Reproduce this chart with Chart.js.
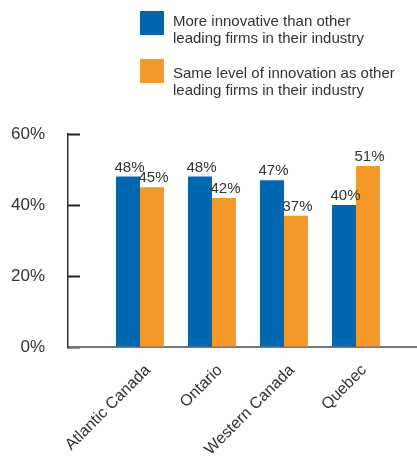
<!DOCTYPE html>
<html>
<head>
<meta charset="utf-8">
<script src="https://cdn.jsdelivr.net/npm/chart.js@4/dist/chart.umd.min.js"></script>
<style>
  html, body { margin: 0; padding: 0; background: #fff; overflow: hidden; }
  #wrap { position: relative; width: 417px; height: 457px; }
  #chart { position: absolute; left: 0; top: 0; }
  .key { position: absolute; left: 140px; width: 24px; height: 24px; }
  .keytext {
    position: absolute; left: 173px; font: 15px/17px 'Liberation Sans', sans-serif;
    color: #333; white-space: nowrap;
  }
</style>
</head>
<body>
<div id="wrap">
  <canvas id="chart" width="417" height="457"></canvas>
  <div id="legend"></div>
</div>
<script>
// Share of firms by region, comparing themselves with other leading firms
const categories = ['Atlantic Canada', 'Ontario', 'Western Canada', 'Quebec'];
const moreInnovative = [48, 48, 47, 40];
const sameLevel = [45, 42, 37, 51];
const seriesNames = [
  ['More innovative than other', 'leading firms in their industry'],
  ['Same level of innovation as other', 'leading firms in their industry']
];
const seriesColors = ['#0067b3', '#f5982a'];
const yTicks = [0, 20, 40, 60];

const FONT = "'Liberation Sans', sans-serif";
const TEXT = '#333';

// Legend built as HTML next to the canvas
const legendTops = [{ box: 11, text: 12 }, { box: 59, text: 64 }];
const legend = document.getElementById('legend');
seriesNames.forEach((lines, i) => {
  const box = document.createElement('div');
  box.className = 'key';
  box.style.top = legendTops[i].box + 'px';
  box.style.background = seriesColors[i];
  legend.appendChild(box);
  const txt = document.createElement('div');
  txt.className = 'keytext';
  txt.style.top = legendTops[i].text + 'px';
  txt.innerHTML = lines.join('<br>');
  legend.appendChild(txt);
});

// Value labels above each bar
const valueLabels = {
  id: 'valueLabels',
  afterDatasetsDraw(chart) {
    const ctx = chart.ctx;
    ctx.save();
    ctx.font = '15px ' + FONT;
    ctx.fillStyle = TEXT;
    ctx.textAlign = 'center';
    ctx.textBaseline = 'alphabetic';
    chart.data.datasets.forEach((ds, di) => {
      chart.getDatasetMeta(di).data.forEach((bar, i) => {
        ctx.fillText(ds.data[i].y + '%', bar.x + 1.5, bar.y - 5);
      });
    });
    ctx.restore();
  }
};

const toPoints = values => values.map((v, i) => ({ x: i + 1, y: v }));

new Chart(document.getElementById('chart'), {
  type: 'bar',
  data: {
    datasets: [
      { label: seriesNames[0].join(' '), data: toPoints(moreInnovative), backgroundColor: seriesColors[0] },
      { label: seriesNames[1].join(' '), data: toPoints(sameLevel), backgroundColor: seriesColors[1] }
    ]
  },
  options: {
    responsive: false,
    animation: false,
    events: [],
    layout: { padding: { top: 134, right: 0, bottom: 0, left: 0 } },
    datasets: { bar: { categoryPercentage: 2 / 3, barPercentage: 1 } },
    plugins: { legend: { display: false }, tooltip: { enabled: false } },
    scales: {
      x: {
        type: 'linear',
        offset: false,
        min: 0,
        max: 349 / 72,
        grid: { display: false, offset: false },
        border: { display: true, color: '#777', width: 2 },
        afterBuildTicks: scale => { scale.ticks = categories.map((c, i) => ({ value: i + 1 })); },
        afterFit: scale => { scale.height = 110; },
        ticks: {
          autoSkip: false,
          minRotation: 45,
          maxRotation: 45,
          padding: 6,
          labelOffset: 8,
          color: TEXT,
          font: { family: FONT, size: 16 },
          callback: v => categories[v - 1]
        }
      },
      y: {
        min: 0,
        max: 60,
        afterBuildTicks: scale => { scale.ticks = yTicks.map(v => ({ value: v })); },
        afterFit: scale => { scale.width = 68; },
        grid: { drawOnChartArea: false, drawTicks: true, tickLength: -12, tickColor: '#222', tickWidth: 2 },
        border: { display: true, color: '#333', width: 1.5 },
        ticks: {
          padding: 35,
          color: TEXT,
          font: { family: FONT, size: 17 },
          callback: v => v + '%'
        }
      }
    }
  },
  plugins: [valueLabels]
});
</script>
</body>
</html>
